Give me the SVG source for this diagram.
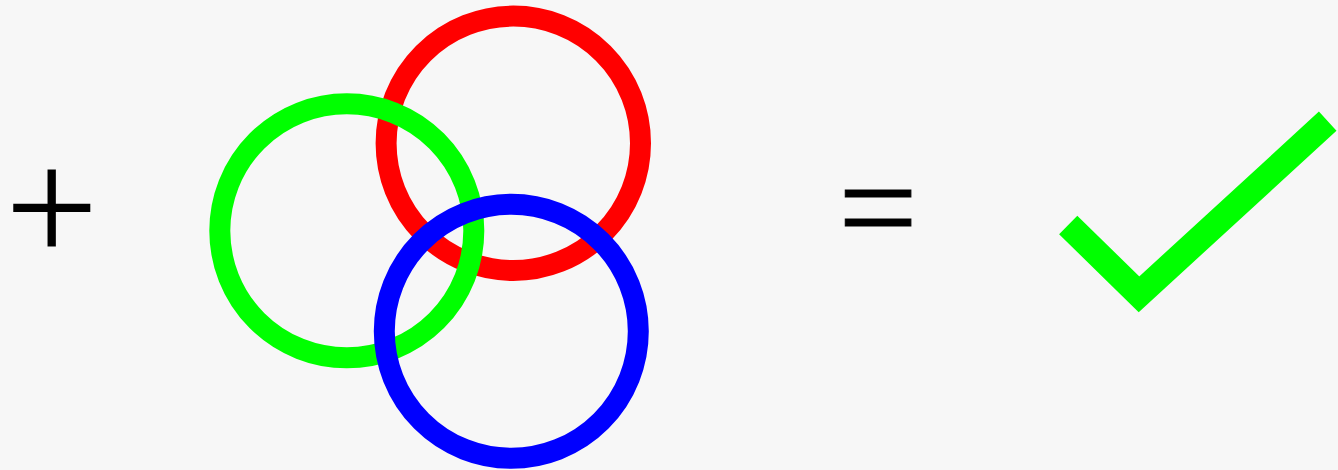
<svg xmlns="http://www.w3.org/2000/svg" width="1338" height="470" viewBox="0 0 1338 470">
<style>
.ring{fill:none;stroke-width:21}
.sym{font-family:"Liberation Serif","Times New Roman",serif;fill:#000;text-anchor:middle}
</style>
<rect width="1338" height="470" fill="#f7f7f7"/>
<g id="plus"><text class="sym" x="51.7" y="262.9" font-size="165.6">+</text></g>
<g id="rings">
<g id="ring-red"><circle class="ring" cx="513.3" cy="143.3" r="127.2" stroke="#ff0000"/></g>
<g id="ring-green"><circle class="ring" cx="346.8" cy="230.8" r="127" stroke="#00ff00"/></g>
<g id="ring-blue"><circle class="ring" cx="511.3" cy="331.3" r="127" stroke="#0000ff"/></g>
</g>
<g id="equals"><text class="sym" x="877.9" y="254.9" font-size="141" stroke="#000" stroke-width="1">=</text></g>
<g id="check"><polyline points="1068.2,225 1139,294.3 1327.7,121.2" fill="none" stroke="#00ff00" stroke-width="26" stroke-linejoin="miter" stroke-linecap="butt"/></g>
</svg>
